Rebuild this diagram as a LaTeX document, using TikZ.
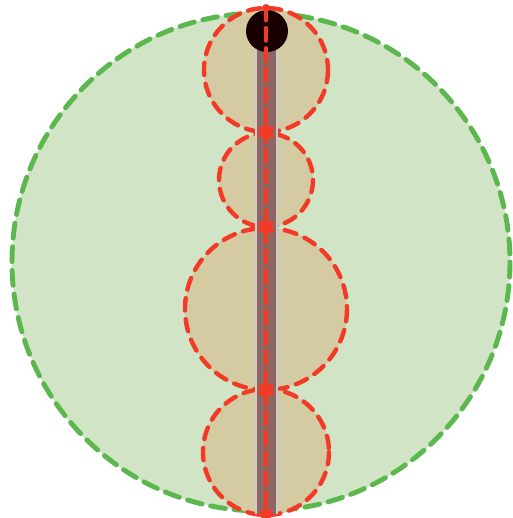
\documentclass[tikz,border=0pt]{standalone}
\usetikzlibrary{shapes.geometric}

\definecolor{leafgreen}{HTML}{D1E5C6}
\definecolor{rimgreen}{HTML}{5CB84E}
\definecolor{podtan}{HTML}{D5CBA2}
\definecolor{cutred}{HTML}{F23A26}
\definecolor{stemred}{HTML}{8E6763}

\begin{document}
\begin{tikzpicture}[x=0.02cm, y=-0.02cm,
    rim/.style={draw=rimgreen, line width=2.8pt, dash pattern=on 8.5pt off 5pt, line cap=round, fill=leafgreen},
    pod/.style={draw=cutred, line width=2.5pt, dash pattern=on 7pt off 5pt, line cap=round, fill=podtan},
    cut/.style={draw=cutred, line width=2.6pt, dash pattern=on 7pt off 4.5pt, line cap=round},
    knot/.style={star, star points=6, fill=cutred, inner sep=0pt, minimum size=11pt}]

    \useasboundingbox (0,0) rectangle (513,518);

    % OUTER CIRCLE
    \draw[rim] (261,262) circle (249);

    % STACKED CIRCLES (top to bottom)
    \draw[pod] (266,70) circle (62);
    \draw[pod] (266,180) circle (47);
    \draw[pod] (266,309) circle (81);
    \draw[pod] (266,452) circle (63);

    % STEM
    \fill[gray!40] (255,12) rectangle (278,514);
    \fill[stemred] (257,12) rectangle (276,514);

    % BLACK DOT
    \fill[black!90!red] (267,31) circle (21);

    % JUNCTIONS
    \coordinate (top) at (266,8);
    \coordinate (k1) at (266,132);
    \coordinate (k2) at (266,227);
    \coordinate (k3) at (266,390);
    \coordinate (bottom) at (266,514);

    % CENTRE LINE
    \draw[cut] (top) -- (k1) -- (k2) -- (k3) -- (bottom);
    \foreach \k in {k1,k2,k3}
        \node[knot] at (\k) {};
    \fill[cutred] (top) circle (4);
    \fill[cutred] (bottom) circle (6);

\end{tikzpicture}
\end{document}
